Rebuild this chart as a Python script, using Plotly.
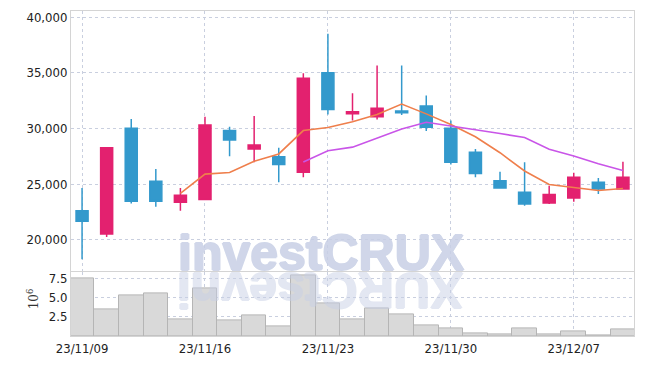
import plotly.graph_objects as go
import pandas as pd

dates = ["2023-11-09", "2023-11-10", "2023-11-13", "2023-11-14", "2023-11-15",
         "2023-11-16", "2023-11-17", "2023-11-20", "2023-11-21", "2023-11-22",
         "2023-11-23", "2023-11-24", "2023-11-27", "2023-11-28", "2023-11-29",
         "2023-11-30", "2023-12-01", "2023-12-04", "2023-12-05", "2023-12-06",
         "2023-12-07", "2023-12-08", "2023-12-11"]
opens = [22600, 20500, 30000, 25250, 23350, 23600, 29800, 28150, 27450, 26050,
         35000, 31300, 31050, 31550, 32000, 30000, 27850, 25300, 24250, 23300,
         23750, 25150, 24550]
highs = [24650, 28300, 30850, 26350, 24650, 31050, 30150, 31100, 28250, 34950,
         38500, 33150, 35650, 35650, 32950, 30700, 28150, 26100, 26950, 24850,
         26000, 25550, 27000]
lows = [18250, 20250, 23250, 22950, 22600, 23550, 27500, 26950, 25150, 25600,
        31250, 30700, 30800, 31200, 29750, 26750, 25600, 24650, 23050, 23200,
        23400, 24100, 24500]
closes = [21650, 28250, 23450, 23450, 24000, 30300, 28950, 28500, 26750, 34500,
          31700, 31500, 31800, 31400, 30100, 26950, 25950, 24650, 23200, 24050,
          25600, 24550, 25600]
volume_millions = [7.52, 3.45, 5.33, 5.50, 2.15, 6.27, 2.00, 2.64, 1.30, 7.88,
                   4.30, 2.15, 3.62, 2.78, 1.43, 1.03, 0.40, 0.23, 1.03, 0.23,
                   0.54, 0.13, 0.80]
tick_dates = ["2023-11-09", "2023-11-16", "2023-11-23", "2023-11-30", "2023-12-07"]
tick_labels = ["23/11/09", "23/11/16", "23/11/23", "23/11/30", "23/12/07"]

close_s = pd.Series(closes)
ma5 = close_s.rolling(5).mean()
ma10 = close_s.rolling(10).mean()

UP = "#e3216f"
DOWN = "#3399cc"
GRID = "#c9cfdf"
FRAME = "#d4d4d4"
TICKFONT = dict(family="DejaVu Sans Condensed, Liberation Sans Narrow, Roboto", size=13, color="#222222")
WM = "#c8d0e6"

def fat(c):
    return f"1px 0 0 {c}, -1px 0 0 {c}, 0 1px 0 {c}, 0 -1px 0 {c}"

fig = go.Figure()
fig.add_trace(go.Candlestick(
    x=dates, open=opens, high=highs, low=lows, close=closes,
    increasing=dict(line=dict(color=UP, width=1.5), fillcolor=UP),
    decreasing=dict(line=dict(color=DOWN, width=1.5), fillcolor=DOWN),
    whiskerwidth=0, xaxis="x", yaxis="y", showlegend=False, hoverinfo="skip"))
fig.add_trace(go.Scatter(x=dates, y=ma5, mode="lines", line=dict(color="#ef7f4c", width=1.6),
                         xaxis="x", yaxis="y", showlegend=False))
fig.add_trace(go.Scatter(x=dates, y=ma10, mode="lines", line=dict(color="#c955e8", width=1.6),
                         xaxis="x", yaxis="y", showlegend=False))
fig.add_trace(go.Bar(x=dates, y=volume_millions, marker=dict(color="#d9d9d9", line=dict(color="#b5b5b5", width=1)),
                     xaxis="x2", yaxis="y2", showlegend=False))

W, H = 645, 366
L, R, T, B = 71, 10, 10, 29
ph = H - T - B
def py(p):
    return (H - B - p) / ph
def px(p):
    return (p - L) / (W - L - R)

xcommon = dict(type="category", range=[-0.45, 22.45], showgrid=True, gridcolor=GRID,
               griddash="dot", gridwidth=1, tickvals=tick_dates, ticktext=tick_labels,
               showline=True, linecolor=FRAME, mirror=True, zeroline=False,
               rangeslider=dict(visible=False), ticks="")
fig.update_layout(
    width=W, height=H, margin=dict(l=L, r=R, t=T, b=B),
    paper_bgcolor="white", plot_bgcolor="white",
    bargap=0, boxgap=0.3,
    xaxis=dict(**xcommon, domain=[0, 1], anchor="y", showticklabels=False),
    xaxis2=dict(**xcommon, domain=[0, 1], anchor="y2", showticklabels=True, tickfont=TICKFONT),
    yaxis=dict(domain=[py(272), 1], range=[17150, 40540], tickvals=[20000, 25000, 30000, 35000, 40000],
               tickformat=",d", showgrid=True, gridcolor=GRID, griddash="dot", zeroline=False,
               showline=True, linecolor=FRAME, mirror=True, tickfont=TICKFONT, ticks=""),
    yaxis2=dict(domain=[0, py(273)], range=[0, 8.3], tickvals=[2.5, 5.0, 7.5], tickformat=".1f",
                showgrid=True, gridcolor=GRID, griddash="dot", zeroline=False,
                showline=True, linecolor=FRAME, mirror=True, tickfont=TICKFONT, ticks=""),
    annotations=[
        dict(text="<b>investCRUX</b>", xref="paper", yref="paper", x=px(321), y=py(253),
             xanchor="center", yanchor="middle", showarrow=False, opacity=0.85,
             font=dict(family="Liberation Sans", size=50, color=WM, shadow=fat(WM))),
        dict(text="<b>XURCtsevni</b>", xref="paper", yref="paper", x=px(321), y=py(290),
             xanchor="center", yanchor="middle", showarrow=False, textangle=180, opacity=0.5,
             font=dict(family="Liberation Sans", size=50, color=WM, shadow=fat(WM))),
        dict(text="10<sup>6</sup>", xref="paper", yref="paper", x=px(33), y=py(300),
             xanchor="center", yanchor="middle", showarrow=False, textangle=-90,
             font=dict(family="DejaVu Serif", size=12, color="#333333")),
    ],
)
fig.write_html("out.html")
